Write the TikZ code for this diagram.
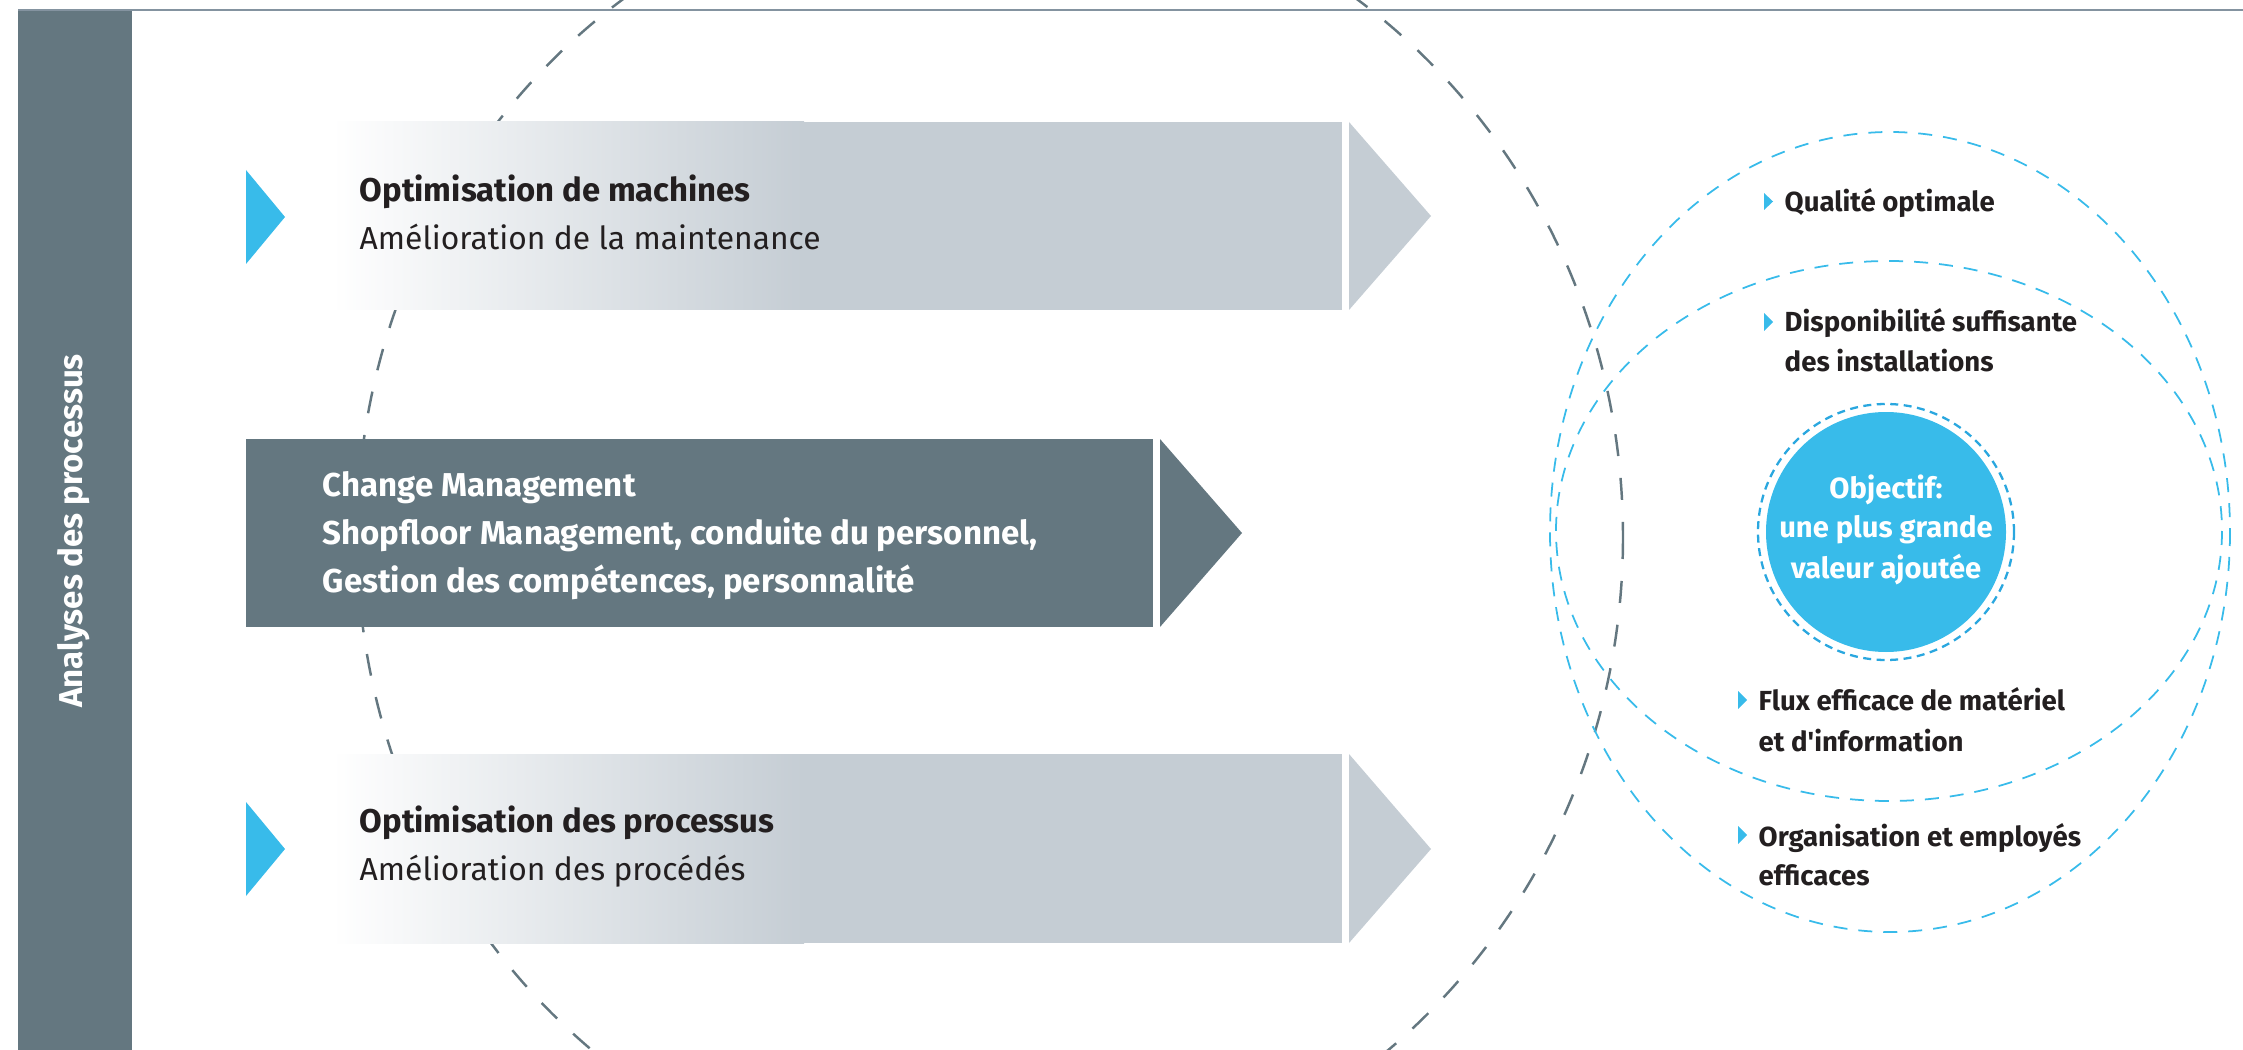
\documentclass[tikz,border=0pt]{standalone}
\usepackage{fontspec}
\setmainfont{Fira Sans}
\usepackage{tikz}

\definecolor{slate}{HTML}{647780}
\definecolor{pale}{HTML}{C5CDD4}
\definecolor{sky}{HTML}{38BBEA}
\definecolor{skyring}{HTML}{2AA7DF}
\definecolor{ink}{HTML}{231F20}
\definecolor{rule}{HTML}{8493A0}

\begin{document}
\begin{tikzpicture}[x=0.1mm,y=-0.1mm,
		title/.style={anchor=base west,inner sep=0pt,text=ink,font=\fontsize{9.35}{11}\selectfont\bfseries},
		sub/.style={anchor=base west,inner sep=0pt,text=ink,font=\fontsize{9.05}{11}\selectfont},
		change/.style={anchor=base west,inner sep=0pt,text=white,font=\fontsize{9.4}{12}\selectfont\bfseries},
		goal/.style={anchor=base west,inner sep=0pt,text=ink,font=\fontsize{7.85}{10}\selectfont\bfseries},
		goaltxt/.style={anchor=base,inner sep=0pt,text=white,font=\fontsize{8.3}{10}\selectfont\bfseries},
		tick/.style={fill=sky},
		ring/.style={sky,line width=0.5pt,dash pattern=on 1.4mm off 1.1mm}]
								 %\draw[color=gray,step=10mm,help lines,opacity=0.3] (0,0) grid (2243,1050); %help grids
								 \useasboundingbox (0,0) rectangle (2243,1050);
								 % side bar and top rule
								 \fill[slate] (18,10) rectangle (132,1050);
								 \draw[rule,line width=0.45pt] (18,10)--(2243,10);
								 \node[rotate=90,text=white,font=\fontsize{9.4}{11}\selectfont\bfseries] (side) at (74,531) {Analyses des processus};
								 % big dashed circle behind the arrows
								 \draw[slate,line width=0.7pt,dash pattern=on 2.2mm off 2.2mm] (990,537) ellipse (633 and 660);
								 % top arrow
								 \shade[left color=white,right color=pale] (332,122) rectangle (804,310);
								 \fill[pale] (803,122) rectangle (1342,310);
								 \fill[pale] (1349,122)--(1431,216)--(1349,310)--cycle;
								 \fill[sky] (246,170)--(285,217)--(246,264)--cycle;
								 \node[title] (machT) at (359,202) {Optimisation de machines};
								 \node[sub] (machS) at (359,250) {Amélioration de la maintenance};
								 % middle arrow
								 \fill[slate] (246,439) rectangle (1153,627);
								 \fill[slate] (1160,439)--(1242,533)--(1160,627)--cycle;
								 \node[change] (chg1) at (322,496) {Change Management};
								 \node[change] (chg2) at (322,544) {Shopfloor Management, conduite du personnel,};
								 \node[change] (chg3) at (322,592) {Gestion des compétences, personnalité};
								 % bottom arrow
								 \shade[left color=white,right color=pale] (332,754) rectangle (804,943);
								 \fill[pale] (803,754) rectangle (1342,943);
								 \fill[pale] (1349,754)--(1431,849)--(1349,943)--cycle;
								 \fill[sky] (246,802)--(285,849)--(246,896)--cycle;
								 \node[title] (procT) at (359,832) {Optimisation des processus};
								 \node[sub] (procS) at (359,880) {Amélioration des procédés};
								 % goal rings
								 \draw[ring] (1890,532) ellipse (340 and 400);
								 \draw[ring] (1889,531) ellipse (333 and 270);
								 \fill[sky] (1886,532) circle (120);
								 \draw[skyring,line width=0.65pt,dash pattern=on 0.8mm off 0.55mm] (1886,532) circle (128);
								 \node[goaltxt] (obj1) at (1886,498) {Objectif:};
								 \node[goaltxt] (obj2) at (1886,537) {une plus grande};
								 \node[goaltxt] (obj3) at (1886,578) {valeur ajoutée};
								 % goal list
								 \fill[tick] (1764,193)--(1773,201.5)--(1764,210)--cycle;
								 \node[goal] (qual) at (1784,212) {Qualité optimale};
								 \fill[tick] (1764,313)--(1773,322)--(1764,331)--cycle;
								 \node[goal] (dispo1) at (1784,332) {Disponibilité suffisante};
								 \node[goal] (dispo2) at (1784,372) {des installations};
								 \fill[tick] (1738,691)--(1747,700)--(1738,709)--cycle;
								 \node[goal] (flux1) at (1758,710) {Flux efficace de matériel};
								 \node[goal] (flux2) at (1758,751) {et d\textquotesingle information};
								 \fill[tick] (1738,826)--(1747,835)--(1738,844)--cycle;
								 \node[goal] (orga1) at (1758,846) {Organisation et employés};
								 \node[goal] (orga2) at (1758,885) {efficaces};
				\end{tikzpicture}
\end{document}
